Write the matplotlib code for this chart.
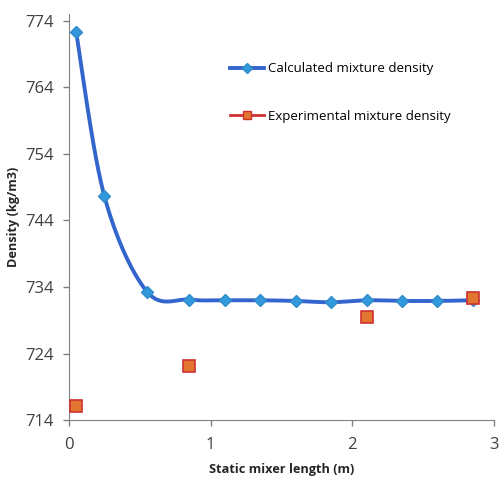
import numpy as np
import matplotlib.pyplot as plt
from matplotlib.lines import Line2D

# Calculated mixture density
calc_length = [0.05, 0.25, 0.55, 0.85, 1.1, 1.35, 1.6, 1.85, 2.1, 2.35, 2.6, 2.85]
calc_density = [772.3, 747.6, 733.3, 732.1, 732.0, 732.0, 731.9, 731.7, 732.0, 731.9, 731.9, 732.0]

# Experimental mixture density
exp_length = [0.05, 0.85, 2.1, 2.85]
exp_density = [716.2, 722.1, 729.5, 732.3]

y_ticks = [714, 724, 734, 744, 754, 764, 774]
x_ticks = [0, 1, 2, 3]


def smooth_line(x, y, n=30):
    # Excel style smoothed line (cardinal spline drawn as cubic beziers)
    x = np.asarray(x, float)
    y = np.asarray(y, float)
    px = np.concatenate([[x[0]], x, [x[-1]]])
    py = np.concatenate([[y[0]], y, [y[-1]]])
    t = np.linspace(0, 1, n)
    out_x, out_y = [], []
    for i in range(1, len(px) - 2):
        p0x, p1x, p2x, p3x = px[i - 1], px[i], px[i + 1], px[i + 2]
        p0y, p1y, p2y, p3y = py[i - 1], py[i], py[i + 1], py[i + 2]
        c1x = p1x + (p2x - p0x) / 6
        c1y = p1y + (p2y - p0y) / 6
        c2x = p2x - (p3x - p1x) / 6
        c2y = p2y - (p3y - p1y) / 6
        bx = (1 - t) ** 3 * p1x + 3 * (1 - t) ** 2 * t * c1x + 3 * (1 - t) * t ** 2 * c2x + t ** 3 * p2x
        by = (1 - t) ** 3 * p1y + 3 * (1 - t) ** 2 * t * c1y + 3 * (1 - t) * t ** 2 * c2y + t ** 3 * p2y
        out_x.extend(bx)
        out_y.extend(by)
    return np.array(out_x), np.array(out_y)


plt.rcParams['font.family'] = ['Open Sans', 'DejaVu Sans']

fig = plt.figure(figsize=(5, 4.78), dpi=100)
ax = fig.add_axes([0.138, 0.121, 0.85, 0.85])

sx, sy = smooth_line(calc_length, calc_density)
ax.plot(sx, sy, color='#3366CC', lw=2.8, zorder=2)
ax.plot(calc_length, calc_density, ls='none', marker='D', ms=6, color='#3399DD',
        mec='#2F8BC9', zorder=3)
ax.plot(exp_length, exp_density, ls='none', marker='s', ms=8, color='#E0762F',
        mec='#D03030', mew=1.2, zorder=4)

ax.set_xlim(0, 3)
ax.set_ylim(714, 775)
ax.set_xticks(x_ticks)
ax.set_yticks(y_ticks)
ax.tick_params(labelsize=12, colors='#404040', length=4, width=1, color='#808080')
ax.tick_params(axis='x', pad=8)
ax.tick_params(axis='y', pad=7)
for side in ['top', 'right']:
    ax.spines[side].set_visible(False)
for side in ['left', 'bottom']:
    ax.spines[side].set_color('#808080')

ax.set_xlabel('Static mixer length (m)', fontsize=9.2, fontweight='bold', color='#262626')
ax.set_ylabel('Density (kg/m3)', fontsize=9.2, fontweight='bold', color='#262626')
ax.xaxis.set_label_coords(0.5, -0.105)
ax.yaxis.set_label_coords(-0.115, 0.5)

handles = [
    Line2D([], [], color='#3366CC', lw=2.8, marker='D', ms=5, mfc='#3399DD', mec='#2F8BC9'),
    Line2D([], [], color='#D03030', lw=2, marker='s', ms=6, mfc='#E0762F', mec='#D03030'),
]
ax.legend(handles, ['Calculated mixture density', 'Experimental mixture density'],
          loc='upper left', bbox_to_anchor=(0.35, 0.91), frameon=False, fontsize=9.5,
          labelspacing=2.6, handlelength=2.6, handletextpad=0.3)

fig.savefig('out.png', dpi=100)
